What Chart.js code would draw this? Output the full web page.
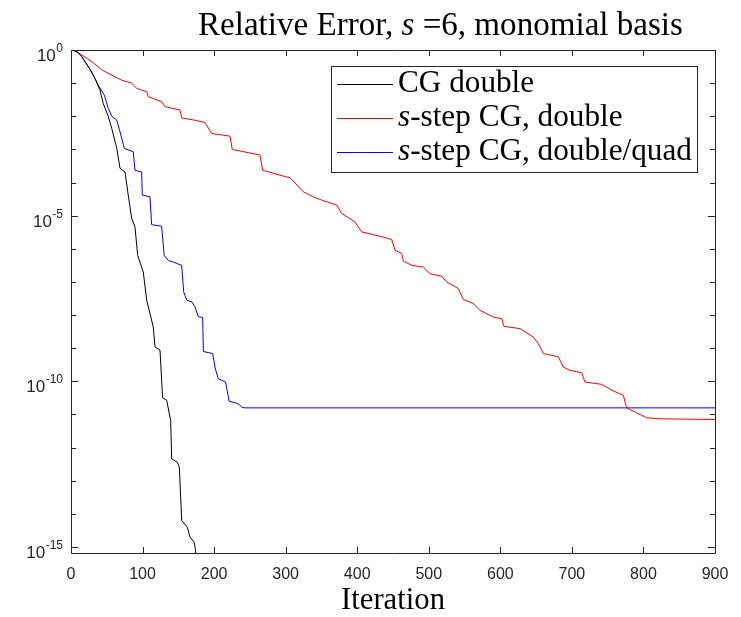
<!DOCTYPE html>
<html>
<head>
<meta charset="utf-8">
<script src="https://cdn.jsdelivr.net/npm/chart.js@4.4.0/dist/chart.umd.min.js"></script>
<style>
  html, body { margin: 0; padding: 0; background: #fff; }
  #wrap { width: 741px; height: 617px; }
</style>
</head>
<body>
<div id="wrap"><canvas id="chart" width="741" height="617"></canvas></div>
<script>
// valores (iteracao, log10 do erro relativo)
const cgIter = [0, 5, 10, 15, 19.6, 27, 33.5, 40.5, 45, 52, 57, 64, 68.5, 75.5, 80, 84.8, 89.4, 93.2, 101, 105.8,
  115, 117.4, 124.4, 128, 133.7, 139.3, 140.7, 148.6, 151.4, 154.7, 162.5, 166.3, 172.3, 174, 175];
const cgLogErr = [0, -0.02, -0.08, -0.2, -0.35, -0.6, -0.86, -1.21, -1.61, -2.0, -2.37, -2.97, -3.57, -3.68, -4.38, -5.08, -5.34, -6.2, -6.7, -7.55,
  -8.36, -8.96, -9.06, -10.5, -10.57, -11.18, -12.34, -12.44, -12.59, -14.2, -14.4, -14.7, -14.86, -15.1, -15.4];

const sstepIter = [0, 8, 15, 29, 43, 61.5, 70.8, 84.8, 91.8, 105.8, 108, 126.7, 131.4, 152.3, 154.7, 173.3, 187.3, 196.6, 222.2, 225.4,
  264.1, 267.9, 301, 306, 324.6, 338.6, 350.3, 371.3, 378.3, 396.9, 406.2, 431.8, 448.2, 452.8, 462.1, 464.5, 476.1, 492.4, 501.7, 518,
  525, 541.3, 548.3, 562.3, 571.6, 590.2, 601.9, 605.1, 627.5, 646.1, 653.1, 660.1, 681.1, 688, 697.3, 713.7, 718.3, 741.6, 757.9, 771.8,
  776.5, 790.5, 804.5, 823.1, 900];
const sstepLogErr = [0, -0.05, -0.15, -0.35, -0.6, -0.81, -0.91, -1.0, -1.16, -1.26, -1.41, -1.56, -1.71, -1.81, -2.05, -2.12, -2.19, -2.52, -2.6, -3.0,
  -3.17, -3.63, -3.83, -3.85, -4.28, -4.43, -4.53, -4.68, -4.93, -5.19, -5.49, -5.62, -5.72, -6.04, -6.14, -6.37, -6.5, -6.55, -6.75, -6.83,
  -7.0, -7.2, -7.53, -7.65, -7.86, -8.06, -8.11, -8.34, -8.41, -8.66, -8.86, -9.16, -9.26, -9.57, -9.67, -9.74, -10.02, -10.09, -10.29, -10.42,
  -10.8, -10.95, -11.1, -11.13, -11.15];

const quadIter = [0, 5, 10, 15, 19.6, 27, 33.5, 38, 46.5, 52, 57, 64, 68.5, 74.5, 87, 89.4, 98.7, 99.6, 110.4, 112.7,
  126.7, 130.2, 136, 143, 154.7, 157.5, 161.7, 168.7, 173.3, 177.9, 184, 185, 198, 201.5, 205.8, 216, 221, 230, 235.2, 238.5,
  243, 900];
const quadLogErr = [0, -0.02, -0.08, -0.2, -0.35, -0.6, -0.86, -1.06, -1.36, -1.76, -2.0, -2.12, -2.47, -2.97, -3.07, -3.63, -3.68, -4.38, -4.43, -5.27,
  -5.32, -6.2, -6.35, -6.4, -6.5, -7.3, -7.55, -7.6, -7.75, -8.05, -8.07, -9.1, -9.16, -9.6, -9.92, -10.02, -10.6, -10.65, -10.7, -10.78,
  -10.8, -10.8];

const seriesNames = ['CG double', 's-step CG, double', 's-step CG, double/quad'];
const seriesColors = ['#000000', '#ff0000', '#0000ff'];

const xTicks = [0, 100, 200, 300, 400, 500, 600, 700, 800, 900];
const yDecades = [0, -1, -2, -3, -4, -5, -6, -7, -8, -9, -10, -11, -12, -13, -14, -15];
const yLabelExps = [0, -5, -10, -15];
const yMinExp = -15.18;

const titleParts = [['Relative Error, ', false], ['s', true], [' =6, monomial basis', false]];
const xTitle = 'Iteration';

function pontos(iter, logErr) {
  return iter.map((x, i) => ({ x: x, y: Math.pow(10, logErr[i]) }));
}

const AXIS = '#262626';
const SERIF = '"Liberation Serif", "DejaVu Serif", serif';
const SANS = '"Liberation Sans", Arial, sans-serif';

// ajusta tamanho da fonte para caber numa largura
function fitSize(ctx, parts, family, width) {
  let total = 0;
  parts.forEach(p => {
    ctx.font = (p[1] ? 'italic ' : '') + '100px ' + family;
    total += ctx.measureText(p[0]).width;
  });
  return 100 * width / total;
}

function drawParts(ctx, parts, family, size, x, y) {
  parts.forEach(p => {
    ctx.font = (p[1] ? 'italic ' : '') + size + 'px ' + family;
    ctx.fillText(p[0], x, y);
    x += ctx.measureText(p[0]).width;
  });
}

const moldura = {
  id: 'moldura',
  beforeDraw(chart) {
    const ctx = chart.ctx;
    ctx.save();
    ctx.fillStyle = '#fff';
    ctx.fillRect(0, 0, chart.width, chart.height);
    ctx.restore();
  },
  afterDraw(chart) {
    const ctx = chart.ctx;
    const a = chart.chartArea;
    const xs = chart.scales.x, ys = chart.scales.y;
    ctx.save();
    ctx.strokeStyle = AXIS;
    ctx.lineWidth = 1;
    ctx.beginPath();
    ctx.rect(Math.round(a.left) + 0.5, Math.round(a.top) + 0.5, Math.round(a.right - a.left), Math.round(a.bottom - a.top));
    ctx.stroke();

    // ticks para dentro
    ctx.beginPath();
    xTicks.forEach(v => {
      const px = Math.round(xs.getPixelForValue(v)) + 0.5;
      ctx.moveTo(px, a.bottom); ctx.lineTo(px, a.bottom - 6);
      ctx.moveTo(px, a.top); ctx.lineTo(px, a.top + 6);
    });
    yDecades.forEach(e => {
      const py = Math.round(ys.getPixelForValue(Math.pow(10, e))) + 0.5;
      const len = yLabelExps.includes(e) ? 7 : 5;
      ctx.moveTo(a.left, py); ctx.lineTo(a.left + len, py);
      ctx.moveTo(a.right, py); ctx.lineTo(a.right - len, py);
    });
    ctx.stroke();

    // rotulos do eixo y: 10^e
    ctx.fillStyle = AXIS;
    ctx.textBaseline = 'alphabetic';
    yLabelExps.forEach(e => {
      const py = ys.getPixelForValue(Math.pow(10, e));
      ctx.font = '12px ' + SANS;
      const sup = String(e);
      const wSup = ctx.measureText(sup).width;
      const right = a.left - 8;
      ctx.textAlign = 'right';
      ctx.fillText(sup, right, py + 2);
      ctx.font = '17px ' + SANS;
      ctx.fillText('10', right - wSup - 0.5, py + 11);
    });

    // titulo
    ctx.textAlign = 'left';
    ctx.fillStyle = '#000';
    const tSize = fitSize(ctx, titleParts, SERIF, 485);
    drawParts(ctx, titleParts, SERIF, tSize, 198, 35);

    // rotulo do eixo x
    const xlSize = fitSize(ctx, [[xTitle, false]], SERIF, 104);
    ctx.font = xlSize + 'px ' + SERIF;
    ctx.textAlign = 'center';
    ctx.fillText(xTitle, (a.left + a.right) / 2, 609);

    // legenda
    const box = { l: 331.5, t: 66.5, r: 697.5, b: 172.5 };
    ctx.fillStyle = '#fff';
    ctx.fillRect(box.l, box.t, box.r - box.l, box.b - box.t);
    ctx.strokeStyle = AXIS;
    ctx.strokeRect(box.l, box.t, box.r - box.l, box.b - box.t);
    const rows = [84, 118, 152];
    const legParts = seriesNames.map(n => n.startsWith('s-') ? [['s', true], [n.slice(1), false]] : [[n, false]]);
    const lSize = fitSize(ctx, legParts[2], SERIF, 294);
    ctx.textAlign = 'left';
    rows.forEach((ry, i) => {
      ctx.strokeStyle = seriesColors[i];
      ctx.beginPath();
      ctx.moveTo(337, ry + 0.5); ctx.lineTo(393, ry + 0.5);
      ctx.stroke();
      ctx.fillStyle = '#000';
      drawParts(ctx, legParts[i], SERIF, lSize, 398, ry + 8);
    });
    ctx.restore();
  }
};

const datasets = [
  [cgIter, cgLogErr], [sstepIter, sstepLogErr], [quadIter, quadLogErr]
].map((d, i) => ({
  label: seriesNames[i],
  data: pontos(d[0], d[1]),
  borderColor: seriesColors[i],
  borderWidth: 1,
  pointRadius: 0,
  tension: 0,
  fill: false
}));

new Chart(document.getElementById('chart'), {
  type: 'line',
  data: { datasets: datasets },
  options: {
    responsive: false,
    animation: false,
    devicePixelRatio: 1,
    layout: { padding: { left: 0, right: 26, top: 50, bottom: 0 } },
    plugins: { legend: { display: false }, title: { display: false }, tooltip: { enabled: false } },
    scales: {
      x: {
        type: 'linear', min: 0, max: 900,
        afterBuildTicks: s => { s.ticks = xTicks.map(v => ({ value: v })); },
        afterFit: s => { s.height = 64; },
        grid: { display: false, drawTicks: false },
        border: { display: false },
        ticks: { color: AXIS, font: { family: 'Liberation Sans', size: 16 }, padding: 12, maxRotation: 0, autoSkip: false }
      },
      y: {
        type: 'logarithmic', min: Math.pow(10, yMinExp), max: 1,
        afterFit: s => { s.width = 71; },
        grid: { display: false, drawTicks: false },
        border: { display: false },
        ticks: { display: false }
      }
    }
  },
  plugins: [moldura]
});
</script>
</body>
</html>
